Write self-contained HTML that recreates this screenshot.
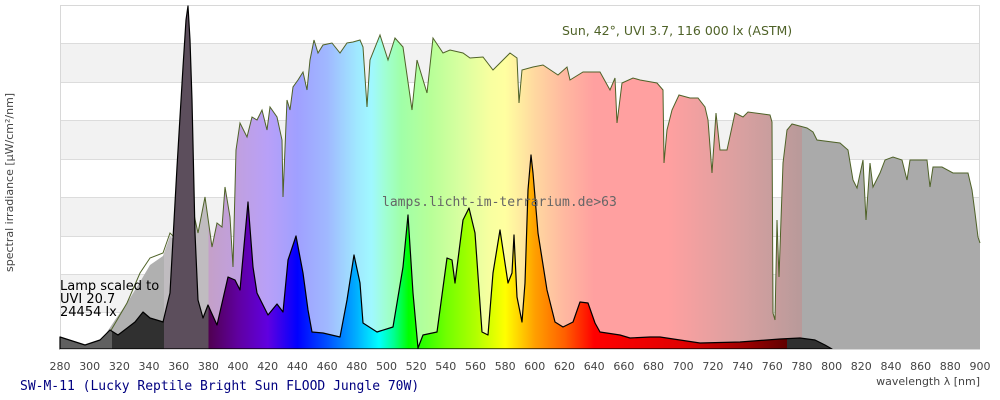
<!DOCTYPE html>
<html><head><meta charset="utf-8"><style>
html,body{margin:0;padding:0;background:#fff;width:1000px;height:400px;overflow:hidden}
svg{display:block}
</style></head><body>
<svg width="1000" height="400" viewBox="0 0 1000 400" xmlns="http://www.w3.org/2000/svg">
<defs>
<linearGradient id="sun" gradientUnits="userSpaceOnUse" x1="60" y1="0" x2="980" y2="0">
<stop offset="0" stop-color="#b0b0b0"/><stop offset=".1129" stop-color="#b0b0b0"/>
<stop offset=".1129" stop-color="#c0bcc0"/><stop offset=".1613" stop-color="#c0bcc0"/>
<stop offset=".1613" stop-color="#c4a0c8"/><stop offset=".1935" stop-color="#c0a0e0"/>
<stop offset=".2258" stop-color="#b8a0f8"/><stop offset=".258" stop-color="#a0a0ff"/>
<stop offset=".2903" stop-color="#a0b8ff"/><stop offset=".3226" stop-color="#a0e8ff"/>
<stop offset=".3387" stop-color="#a0f8ff"/><stop offset=".3548" stop-color="#a0ffd0"/>
<stop offset=".371" stop-color="#a0ffa8"/><stop offset=".4032" stop-color="#b8ff98"/>
<stop offset=".4355" stop-color="#d8ffa0"/><stop offset=".4677" stop-color="#f8ffa0"/>
<stop offset=".4839" stop-color="#ffffa0"/><stop offset=".5161" stop-color="#ffd8a0"/>
<stop offset=".5484" stop-color="#ffb8a0"/><stop offset=".5806" stop-color="#ffa0a0"/>
<stop offset=".6613" stop-color="#ffa0a0"/><stop offset=".7419" stop-color="#d8a0a0"/>
<stop offset=".8065" stop-color="#b89a9a"/><stop offset=".8065" stop-color="#aaaaaa"/>
<stop offset="1" stop-color="#aaaaaa"/>
</linearGradient>
<linearGradient id="lamp" gradientUnits="userSpaceOnUse" x1="60" y1="0" x2="980" y2="0">
<stop offset="0" stop-color="#606060"/><stop offset=".0565" stop-color="#606060"/>
<stop offset=".0565" stop-color="#303030"/><stop offset=".1129" stop-color="#303030"/>
<stop offset=".1129" stop-color="#5c4e5c"/><stop offset=".1613" stop-color="#5c4e5c"/>
<stop offset=".1613" stop-color="#500050"/><stop offset=".1935" stop-color="#6000a0"/>
<stop offset=".2258" stop-color="#6000e0"/><stop offset=".258" stop-color="#0000ff"/>
<stop offset=".2903" stop-color="#0050ff"/><stop offset=".3226" stop-color="#00b0ff"/>
<stop offset=".3468" stop-color="#00ffff"/><stop offset=".3629" stop-color="#00ff90"/>
<stop offset=".379" stop-color="#00ff00"/><stop offset=".4194" stop-color="#70ff00"/>
<stop offset=".4516" stop-color="#b0ff00"/><stop offset=".4839" stop-color="#ffff00"/>
<stop offset=".5161" stop-color="#ffa000"/><stop offset=".5484" stop-color="#ff6000"/>
<stop offset=".5806" stop-color="#ff0000"/><stop offset=".6774" stop-color="#e00000"/>
<stop offset=".7419" stop-color="#a00000"/><stop offset=".7903" stop-color="#600000"/>
<stop offset=".7903" stop-color="#303030"/><stop offset="1" stop-color="#303030"/>
</linearGradient>
</defs>
<rect x="60" y="5" width="920" height="344" fill="#fff"/>
<rect x="60" y="43" width="920" height="39" fill="#f2f2f2"/>
<rect x="60" y="120" width="920" height="39" fill="#f2f2f2"/>
<rect x="60" y="197" width="920" height="39" fill="#f2f2f2"/>
<rect x="60" y="274" width="920" height="38" fill="#f2f2f2"/>
<g stroke="#dcdcdc" stroke-width="1">
<line x1="60" y1="43.5" x2="980" y2="43.5"/><line x1="60" y1="82.5" x2="980" y2="82.5"/>
<line x1="60" y1="120.5" x2="980" y2="120.5"/><line x1="60" y1="159.5" x2="980" y2="159.5"/>
<line x1="60" y1="197.5" x2="980" y2="197.5"/><line x1="60" y1="236.5" x2="980" y2="236.5"/>
<line x1="60" y1="274.5" x2="980" y2="274.5"/><line x1="60" y1="312.5" x2="980" y2="312.5"/>
</g>
<rect x="60.5" y="5.5" width="919" height="344" fill="none" stroke="#d8d8d8"/>
<polygon fill="url(#sun)" points="98,349 105,335 115,320 127,303 140,282 150,265 163,256 170,236 177,242 187,213 193,210 198,233 205,197 212,247 217,223 222,227 225,187 230,217 233,267 236,150 240,123 247,137 252,117 257,120 262,110 267,130 270,107 277,117 282,140 283,197 287,100 290,110 293,87 298,80 303,72 307,90 310,60 314,40 318,53 323,45 332,43 340,53 347,43 353,42 360,40 363,47 367,107 370,60 380,35 388,60 395,38 403,47 412,110 417,60 427,93 433,38 443,53 450,50 463,53 470,58 483,57 493,70 500,63 510,53 517,58 519,103 522,70 533,67 543,65 558,75 567,67 570,80 583,72 600,72 610,90 615,78 617,123 622,83 633,78 640,80 657,83 663,90 664,163 667,130 672,110 679,95 690,98 698,98 705,107 708,120 712,173 716,113 720,150 727,150 735,113 743,117 748,112 770,115 772,122 773,313 775,320 777,220 779,277 783,163 787,130 792,124 807,128 813,132 817,140 840,143 848,150 853,180 857,188 863,160 866,220 870,163 873,187 880,173 885,160 893,157 902,160 907,180 910,160 917,160 927,160 930,187 933,167 942,167 953,173 968,173 972,190 975,213 978,237 980,243 980,349"/>
<polyline fill="none" stroke="#4f6228" stroke-width="1" points="100,345 110,332 127,303 140,273 150,258 163,253 170,233 177,240 187,213 193,210 198,233 205,197 212,247 217,223 222,227 225,187 230,217 233,267 236,150 240,123 247,137 252,117 257,120 262,110 267,130 270,107 277,117 282,140 283,197 287,100 290,110 293,87 298,80 303,72 307,90 310,60 314,40 318,53 323,45 332,43 340,53 347,43 353,42 360,40 363,47 367,107 370,60 380,35 388,60 395,38 403,47 412,110 417,60 427,93 433,38 443,53 450,50 463,53 470,58 483,57 493,70 500,63 510,53 517,58 519,103 522,70 533,67 543,65 558,75 567,67 570,80 583,72 600,72 610,90 615,78 617,123 622,83 633,78 640,80 657,83 663,90 664,163 667,130 672,110 679,95 690,98 698,98 705,107 708,120 712,173 716,113 720,150 727,150 735,113 743,117 748,112 770,115 772,122 773,313 775,320 777,220 779,277 783,163 787,130 792,124 807,128 813,132 817,140 840,143 848,150 853,180 857,188 863,160 866,220 870,163 873,187 880,173 885,160 893,157 902,160 907,180 910,160 917,160 927,160 930,187 933,167 942,167 953,173 968,173 972,190 975,213 978,237 980,243"/>
<polygon fill="url(#lamp)" stroke="#000" stroke-width="1.2" stroke-linejoin="round" points="60,349 60,337 85,345 100,340 110,330 118,335 135,322 143,312 150,318 160,321 163,322 170,293 177,167 183,67 186,20 188,6 190,40 192,100 195,233 198,300 203,318 208,305 217,325 228,277 235,280 240,290 248,202 253,267 257,293 268,315 277,304 283,312 288,260 296,236 303,273 308,310 312,332 323,333 340,337 347,300 354,255 360,283 363,323 377,332 393,327 403,267 408,215 413,293 418,348 423,335 437,332 447,258 452,260 455,283 463,220 469,208 475,233 482,332 488,335 493,273 500,230 503,250 508,283 512,273 514,235 517,297 522,322 525,283 528,190 531,155 533,173 538,233 547,290 555,322 563,327 573,322 580,302 588,303 595,323 600,332 620,335 630,338 650,337 660,337 680,340 700,343 740,342 780,339 800,338 815,340 825,345 832,349"/>
<line x1="60" y1="349.5" x2="980" y2="349.5" stroke="#d8d8d8"/>
<g font-family="'DejaVu Sans','Liberation Sans',sans-serif">
<text x="562" y="35" font-size="12.5" fill="#4f6228">Sun, 42°, UVI 3.7, 116 000 lx (ASTM)</text>
<text x="60" y="290" font-size="13" fill="#000">Lamp scaled to</text>
<text x="60" y="303" font-size="13" fill="#000">UVI 20.7</text>
<text x="60" y="316" font-size="13" fill="#000">24454 lx</text>
<text transform="translate(13,272) rotate(-90)" font-size="11" fill="#444">spectral irradiance [µW/cm²/nm]</text>
<text x="980" y="385" font-size="11" fill="#444" text-anchor="end">wavelength λ [nm]</text>
<g font-size="11" fill="#444" text-anchor="middle">
<text x="60" y="370">280</text><text x="89.7" y="370">300</text><text x="119.4" y="370">320</text><text x="149" y="370">340</text><text x="178.7" y="370">360</text><text x="208.4" y="370">380</text><text x="238" y="370">400</text><text x="267.7" y="370">420</text><text x="297.4" y="370">440</text><text x="327.1" y="370">460</text><text x="356.8" y="370">480</text><text x="386.5" y="370">500</text><text x="416.1" y="370">520</text><text x="445.8" y="370">540</text><text x="475.5" y="370">560</text><text x="505.2" y="370">580</text><text x="534.8" y="370">600</text><text x="564.5" y="370">620</text><text x="594.2" y="370">640</text><text x="623.9" y="370">660</text><text x="653.5" y="370">680</text><text x="683.2" y="370">700</text><text x="712.9" y="370">720</text><text x="742.6" y="370">740</text><text x="772.3" y="370">760</text><text x="801.9" y="370">780</text><text x="831.6" y="370">800</text><text x="861.3" y="370">820</text><text x="891" y="370">840</text><text x="920.6" y="370">860</text><text x="950.3" y="370">880</text><text x="980" y="370">900</text>
</g>
</g>
<g font-family="'DejaVu Sans Mono','Liberation Mono',monospace">
<text x="382" y="206" font-size="13" fill="#666">lamps.licht-im-terrarium.de&gt;63</text>
<text x="20" y="390" font-size="13" fill="#000080">SW-M-11 (Lucky Reptile Bright Sun FLOOD Jungle 70W)</text>
</g>
</svg>
</body></html>
